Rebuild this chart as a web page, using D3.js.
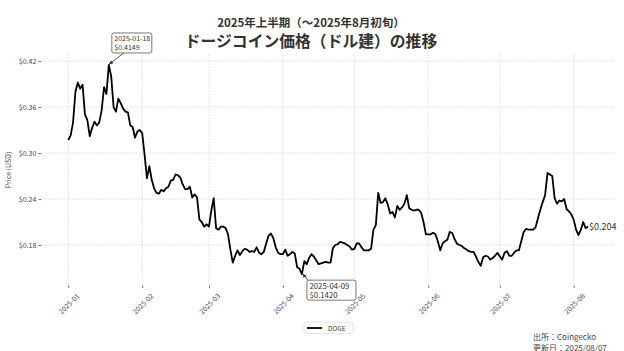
<!DOCTYPE html>
<html><head><meta charset="utf-8">
<script src="https://cdn.jsdelivr.net/npm/d3@7"></script>
<style>
body{margin:0;background:#fff;}
svg{display:block;font-family:"Noto Sans CJK JP","Noto Sans",sans-serif;}
</style></head>
<body><svg id="c" width="624" height="351"></svg>
<script>
const startDate = "2025-01-01";
const prices = [
0.317,0.323,0.340,0.380,0.392,0.384,0.389,0.350,0.343,0.322,0.333,0.341,0.336,0.340,0.356,0.386,0.377,0.4149,0.400,0.360,0.354,0.371,0.365,0.358,0.354,0.353,0.336,0.334,0.320,0.328,0.330,
0.326,0.298,0.267,0.283,0.265,0.254,0.248,0.247,0.252,0.250,0.254,0.256,0.264,0.265,0.272,0.271,0.268,0.259,0.253,0.253,0.256,0.242,0.246,0.242,0.213,0.210,0.204,0.207,
0.204,0.225,0.241,0.202,0.200,0.204,0.204,0.202,0.194,0.174,0.157,0.166,0.173,0.167,0.172,0.175,0.174,0.171,0.172,0.171,0.177,0.170,0.168,0.171,0.182,0.192,0.195,0.189,0.177,0.170,0.168,
0.168,0.174,0.166,0.168,0.171,0.169,0.151,0.149,0.1420,0.159,0.155,0.163,0.168,0.165,0.160,0.155,0.156,0.157,0.158,0.157,0.157,0.176,0.180,0.181,0.184,0.183,0.182,0.180,0.178,0.174,
0.175,0.182,0.182,0.177,0.173,0.173,0.173,0.175,0.200,0.206,0.248,0.235,0.236,0.241,0.233,0.221,0.223,0.216,0.231,0.226,0.229,0.234,0.245,0.228,0.226,0.225,0.226,0.226,0.222,0.210,0.194,
0.194,0.194,0.196,0.194,0.185,0.173,0.182,0.185,0.187,0.197,0.196,0.188,0.182,0.180,0.179,0.176,0.174,0.172,0.171,0.171,0.165,0.158,0.153,0.164,0.166,0.165,0.161,0.163,0.166,0.170,
0.165,0.161,0.170,0.172,0.166,0.166,0.170,0.173,0.173,0.185,0.197,0.201,0.200,0.200,0.200,0.203,0.215,0.226,0.236,0.245,0.274,0.272,0.270,0.241,0.234,0.238,0.237,0.240,0.227,0.224,0.220,
0.213,0.200,0.193,0.200,0.210,0.202,0.204
];
const xTickLabels = ["2025-01","2025-02","2025-03","2025-04","2025-05","2025-06","2025-07","2025-08"];
const yTicks = [0.18,0.24,0.30,0.36,0.42];
const titleLines = ["2025年上半期（～2025年8月初旬）","ドージコイン価格（ドル建）の推移"];
const seriesName = "DOGE";
const annotations = [
  {date:"2025-01-18", label:["2025-01-18","$0.4149"], value:0.4149},
  {date:"2025-04-09", label:["2025-04-09","$0.1420"], value:0.1420}
];
const sourceLines = ["出所：Coingecko","更新日：2025/08/07"];

const parse = d3.utcParse("%Y-%m-%d");
const t0 = parse(startDate);
const data = prices.map((v,i)=>({date:d3.utcDay.offset(t0,i), value:v}));

const svg = d3.select("#c");
const L=42.3, R=614, T=54.5, B=284.6;

const xExt = d3.extent(data,d=>d.date);
const xPad = (xExt[1]-xExt[0])*0.05;
const x = d3.scaleUtc().domain([new Date(+xExt[0]-xPad), new Date(+xExt[1]+xPad)]).range([L,R]);
const yExt = d3.extent(data,d=>d.value);
const yPad = (yExt[1]-yExt[0])*0.05;
const y = d3.scaleLinear().domain([yExt[0]-yPad, yExt[1]+yPad]).range([B,T]);

const xTickDates = xTickLabels.map(s=>d3.utcParse("%Y-%m")(s));

// grid
const grid = svg.append("g");
grid.selectAll("line.h").data(yTicks).join("line")
  .attr("x1",L).attr("x2",R).attr("y1",d=>y(d)).attr("y2",d=>y(d))
  .attr("stroke","#d4d4d4").attr("stroke-width",0.8).attr("stroke-dasharray","1.5,1.5");
grid.selectAll("line.v").data(xTickDates).join("line")
  .attr("y1",T).attr("y2",B).attr("x1",d=>x(d)).attr("x2",d=>x(d))
  .attr("stroke","#d4d4d4").attr("stroke-width",0.8).attr("stroke-dasharray","1.5,1.5");

// y axis
const yAxis = svg.append("g").attr("transform",`translate(${L-1},0)`)
  .call(d3.axisLeft(y).tickValues(yTicks).tickSize(3).tickPadding(2).tickFormat(d=>"$"+d3.format(".2f")(d)));
yAxis.select(".domain").remove();
yAxis.selectAll(".tick line").attr("stroke","#555").attr("stroke-width",0.8);
yAxis.selectAll(".tick text").attr("font-size",7).attr("fill","#444").attr("font-family","'Noto Sans CJK JP',sans-serif");

// x axis
const xAxis = svg.append("g").attr("transform",`translate(0,${B+0.5})`)
  .call(d3.axisBottom(x).tickValues(xTickDates).tickSize(3).tickFormat((d,i)=>xTickLabels[i]));
xAxis.select(".domain").remove();
xAxis.selectAll(".tick line").attr("stroke","#555").attr("stroke-width",0.8);
xAxis.selectAll(".tick text").attr("font-size",7).attr("fill","#444")
  .attr("font-family","'Noto Sans CJK JP',sans-serif")
  .attr("text-anchor","middle").attr("dy",null).attr("y",null)
  .attr("dominant-baseline","central")
  .attr("transform","translate(0,18.5) rotate(-45)");

// line
svg.append("path").datum(data)
  .attr("fill","none").attr("stroke","#000").attr("stroke-width",1.8).attr("stroke-linejoin","round")
  .attr("d",d3.line().x(d=>x(d.date)).y(d=>y(d.value)));

// end label
const last = data[data.length-1];
svg.append("text").attr("x",x(last.date)+1).attr("y",y(last.value)).attr("dominant-baseline","central")
  .attr("font-size",9).attr("fill","#333").text("$"+d3.format(".3f")(last.value));

// annotations
svg.append("defs").append("marker").attr("id","ah").attr("viewBox","0 0 10 10").attr("refX",9).attr("refY",5)
  .attr("markerWidth",5).attr("markerHeight",5).attr("orient","auto-start-reverse")
  .append("path").attr("d","M0,0 L10,5 L0,10 z").attr("fill","#333");
const annStyle = [
  {dx:3, dy:-32, w:40, h:20, fs:7, ax:12, ay:20},
  {dx:5, dy:6, w:49, h:20, fs:7.8, ax:1, ay:0}
];
annotations.forEach((a,i)=>{
  const s = annStyle[i];
  const px = x(parse(a.date)), py = y(a.value);
  const bx = px+s.dx, by = py+s.dy;
  svg.append("line").attr("x1",bx+s.ax).attr("y1",by+s.ay).attr("x2",px+(i===0?0.5:1)).attr("y2",py+(i===0?-1:0))
    .attr("stroke","#333").attr("stroke-width",0.8).attr("marker-end","url(#ah)");
  svg.append("rect").attr("x",bx).attr("y",by).attr("width",s.w).attr("height",s.h).attr("rx",2)
    .attr("fill","#fff").attr("stroke","#555").attr("stroke-width",0.8);
  a.label.forEach((t,j)=>{
    svg.append("text").attr("x",bx+2.5).attr("y",by+5.5+j*8.5).attr("dominant-baseline","central")
      .attr("font-size",s.fs).attr("fill","#333").text(t);
  });
});

// titles
svg.append("text").attr("x",311).attr("y",21.5).attr("text-anchor","middle").attr("dominant-baseline","central")
  .attr("font-size",11.5).attr("font-weight","bold").attr("fill","#333").text(titleLines[0]);
svg.append("text").attr("x",311).attr("y",40).attr("text-anchor","middle").attr("dominant-baseline","central")
  .attr("font-size",15.8).attr("font-weight","bold").attr("fill","#333").text(titleLines[1]);

// y label
svg.append("text").attr("transform","translate(7.5,170) rotate(-90)").attr("text-anchor","middle")
  .attr("dominant-baseline","central").attr("font-size",7).attr("fill","#444").text("Price (USD)");

// legend
const lg = svg.append("g");
lg.append("rect").attr("x",304).attr("y",322).attr("width",49).attr("height",11.5).attr("rx",2)
  .attr("fill","#fff").attr("stroke","#ddd").attr("stroke-width",0.8);
lg.append("line").attr("x1",307).attr("x2",322).attr("y1",328).attr("y2",328).attr("stroke","#000").attr("stroke-width",1.8);
lg.append("text").attr("x",328).attr("y",328).attr("dominant-baseline","central").attr("font-size",6.5).attr("fill","#333").text(seriesName);

// source
sourceLines.forEach((s,i)=>{
  svg.append("text").attr("x",533).attr("y",336+i*11).attr("dominant-baseline","central")
    .attr("font-size",8).attr("fill","#444").text(s);
});
</script></body></html>
